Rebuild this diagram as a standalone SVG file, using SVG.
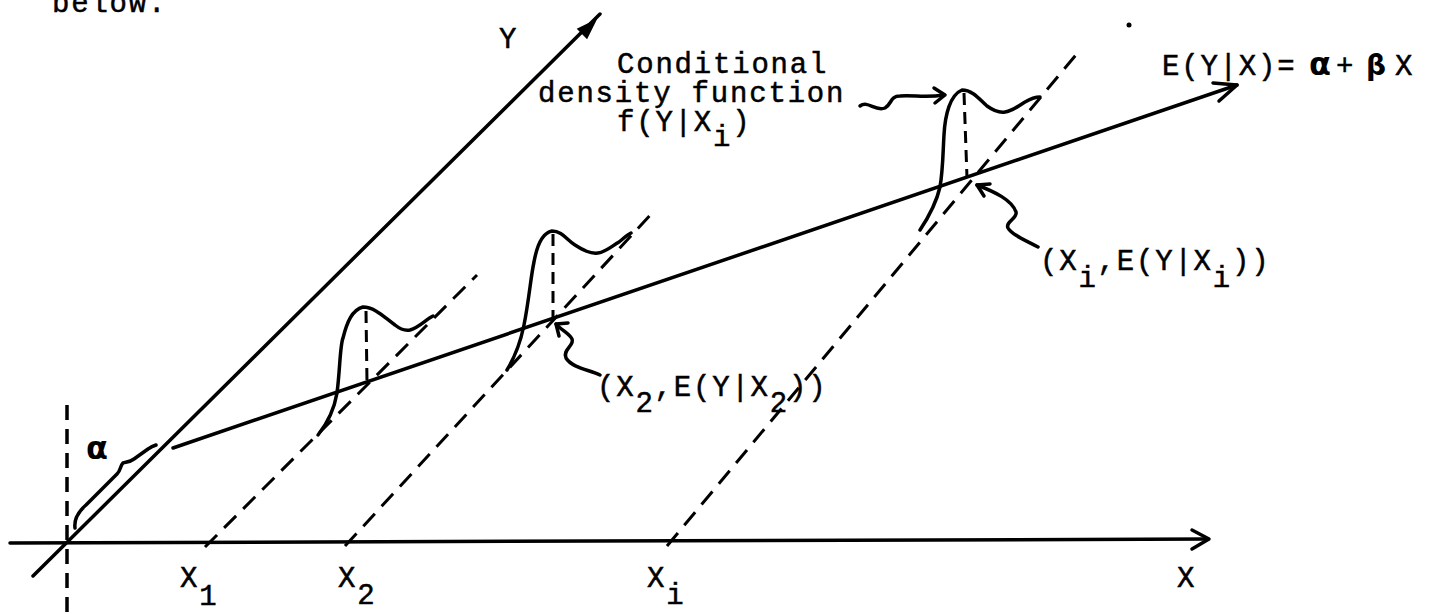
<svg xmlns="http://www.w3.org/2000/svg" width="1432" height="614" viewBox="0 0 1432 614">
<defs>
<style>
.t{font-family:"Liberation Mono","Courier New",monospace;font-size:29px;letter-spacing:1.8px;fill:#000;stroke:#000;stroke-width:0.5}
.g{font-family:"DejaVu Sans",sans-serif;fill:#000;font-weight:bold}
.s{fill:none;stroke:#000;stroke-width:3.5;stroke-linecap:round;stroke-linejoin:round}
.d{fill:none;stroke:#000;stroke-width:3;stroke-dasharray:17 10}
.dv{fill:none;stroke:#000;stroke-width:3.5;stroke-dasharray:15 9}
.ds{fill:none;stroke:#000;stroke-width:3;stroke-dasharray:12 7}
.c{fill:none;stroke:#000;stroke-width:3.5;stroke-linecap:round;stroke-linejoin:round}
</style>
</defs>
<rect width="1432" height="614" fill="#fff"/>
<text class="t" x="52" y="12">below.</text>

<g id="connectors">
  <!-- X axis -->
  <path class="s" d="M10,543 L1208,539"/>
  <path class="s" d="M1192,530 L1209,539 L1192,549"/>
  <!-- Y axis -->
  <path class="s" d="M33,576 L600,14"/>
  <polygon points="595,21 586.8,37.6 578.4,29" fill="#000" stroke="#000" stroke-width="2"/>
  <!-- vertical dashed at origin -->
  <path class="dv" d="M67,405 L67,614"/>
  <!-- regression line -->
  <path class="s" d="M173,448 L1237,85"/>
  <path class="s" d="M1219,101 L1237,85 L1213,83"/>
  <!-- dashed guide lines -->
  <path class="d" d="M205,547 L477,275"/>
  <path class="d" d="M345,546 L653,212"/>
  <path class="d" d="M667,546 L1080,50"/>
  <!-- brace alpha -->
  <path class="c" d="M75,528 C74,520 78,512 86,505 L117,474 C121,470 120,466 123,463 C126,462 130,462 134,459 L148,449 C151,447 153,446 156,445"/>
  <!-- pointer squiggles -->
  <path class="c" d="M860,106 C868,100 875,112 885,108 C892,104 890,96 900,96 C915,95 925,98 944,95"/>
  <path class="c" d="M934,88 L945,95 L935,103"/>
  <path class="c" d="M1038,247 C1025,240 1012,235 1008,228 C1005,222 1018,218 1016,212 C1012,200 995,192 977,185"/>
  <path class="c" d="M990,184 L977,185 L984,196"/>
  <path class="c" d="M600,375 C590,370 572,368 566,358 C562,350 575,345 572,339 C569,333 561,330 556,324"/>
  <path class="c" d="M568,323 L556,324 L559,336"/>
</g>

<g id="density-1">
  <path class="c" d="M318,435 C330,420 335,405 337,393 C340,370 340,345 343,338 C347,322 352,310 363,307 C375,307 385,318 395,325 C400,329 405,331 410,330 C420,327 425,320 433,316"/>
  <path class="ds" d="M366,311 L367,382"/>
</g>
<g id="density-2">
  <path class="c" d="M507,370 C516,355 521,340 524,325 C529,300 531,275 534,262 C537,245 542,233 552,231 C562,231 567,240 575,245 C583,250 590,254 598,253 C606,252 612,246 619,242 C624,238 627,235 631,233"/>
  <path class="ds" d="M553,234 L553,320"/>
</g>
<g id="density-3">
  <path class="c" d="M920,230 C930,215 937,200 940,187 C943,170 943,150 944,135 C945,115 950,95 962,90 C973,90 980,100 987,106 C994,111 999,113 1005,112 C1013,111 1018,106 1025,102 C1030,99 1035,97 1040,97"/>
  <path class="ds" d="M964,93 L967,178"/>
</g>

<g id="label-alpha"><text class="g" x="86" y="459" font-size="32">α</text></g>
<g id="label-y"><text class="t" x="499" y="48">Y</text></g>
<g id="label-conditional">
  <text class="t" x="617" y="73">Conditional</text>
  <text class="t" x="538" y="102">density function</text>
  <text class="t" x="617" y="131">f(Y|X<tspan dy="15">i</tspan><tspan dy="-15">)</tspan></text>
</g>
<g id="label-regression">
  <text class="t" x="1162" y="75">E(Y|X)=</text>
  <text class="g" x="1309" y="75" font-size="32">α</text>
  <text class="t" x="1336" y="75">+</text>
  <text class="g" x="1366" y="75" font-size="28">β</text>
  <text class="t" x="1395" y="75">X</text>
</g>
<g id="label-point-i"><text class="t" x="1040" y="270">(X<tspan dy="17">i</tspan><tspan dy="-17">,E(Y|X</tspan><tspan dy="17">i</tspan><tspan dy="-17">))</tspan></text></g>
<g id="label-point-2"><text class="t" x="597" y="396">(X<tspan dy="16">2</tspan><tspan dy="-16">,E(Y|X</tspan><tspan dy="16">2</tspan><tspan dy="-16">))</tspan></text></g>
<g id="label-x1"><text class="t" x="180" y="587">X<tspan dy="18">1</tspan></text></g>
<g id="label-x2"><text class="t" x="338" y="587">X<tspan dy="17">2</tspan></text></g>
<g id="label-xi"><text class="t" x="647" y="587">X<tspan dy="17">i</tspan></text></g>
<g id="label-x"><text class="t" x="1177" y="587">X</text></g>
<circle cx="1129" cy="25" r="2.5" fill="#000"/>
</svg>
